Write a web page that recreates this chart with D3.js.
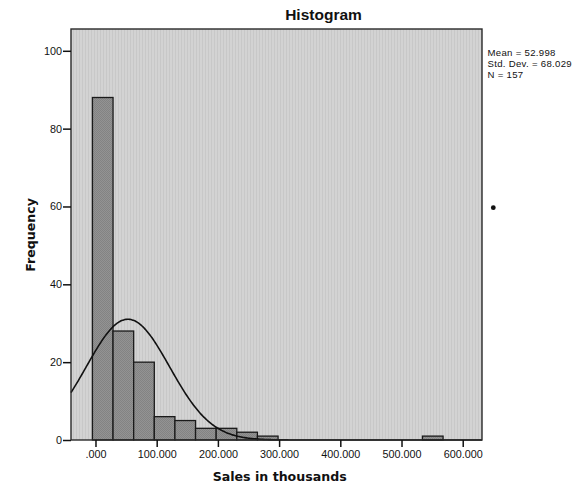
<!DOCTYPE html>
<html>
<head>
<meta charset="utf-8">
<script src="https://cdn.jsdelivr.net/npm/d3@7"></script>
<style>
  html, body { margin: 0; padding: 0; background: #ffffff; }
  svg { display: block; }
</style>
</head>
<body>
<svg id="chart" width="584" height="486"></svg>
<script>
// ---- data ----
const binStart = -5;          // left edge of the first bin (thousands)
const binWidth = 33.7;        // bin width (thousands)
const frequencies = [88, 28, 20, 6, 5, 3, 3, 2, 1, 0, 0, 0, 0, 0, 0, 0, 1];
const xTicks = [0, 100, 200, 300, 400, 500, 600];
const xTickLabels = [".000", "100.000", "200.000", "300.000", "400.000", "500.000", "600.000"];
const yTicks = [0, 20, 40, 60, 80, 100];
const statsMean = 52.998;
const statsSD = 68.029;
const statsN = 157;
const statsLines = ["Mean = 52.998", "Std. Dev. = 68.029", "N = 157"];
const titleText = "Histogram";
const xLabel = "Sales in thousands";
const yLabel = "Frequency";

// ---- layout ----
const plot = { left: 71, right: 482, top: 29, bottom: 440 };
const svg = d3.select("#chart");

const x = d3.scaleLinear().domain([-40, 631.5]).range([plot.left, plot.right]);
const y = d3.scaleLinear().domain([0, 105.6]).range([plot.bottom, plot.top]);

// texture patterns
const defs = svg.append("defs");
const bgPat = defs.append("pattern").attr("id", "bgtex").attr("patternUnits", "userSpaceOnUse")
  .attr("width", 3).attr("height", 4);
bgPat.append("rect").attr("width", 3).attr("height", 4).attr("fill", "#d3d3d3");
bgPat.append("rect").attr("x", 1).attr("width", 1).attr("height", 4).attr("fill", "#c8c8c8");
const barPat = defs.append("pattern").attr("id", "bartex").attr("patternUnits", "userSpaceOnUse")
  .attr("width", 2).attr("height", 2);
barPat.append("rect").attr("width", 2).attr("height", 2).attr("fill", "#939393");
barPat.append("rect").attr("width", 1).attr("height", 1).attr("fill", "#838383");
barPat.append("rect").attr("x", 1).attr("y", 1).attr("width", 1).attr("height", 1).attr("fill", "#838383");

// plot background
svg.append("rect")
  .attr("x", plot.left).attr("y", plot.top)
  .attr("width", plot.right - plot.left).attr("height", plot.bottom - plot.top)
  .attr("fill", "url(#bgtex)");

// bars
const bins = frequencies.map((f, i) => ({ x0: binStart + i * binWidth, x1: binStart + (i + 1) * binWidth, f }));
svg.append("g").selectAll("rect").data(bins.filter(d => d.f > 0)).join("rect")
  .attr("x", d => x(d.x0))
  .attr("y", d => y(d.f))
  .attr("width", d => x(d.x1) - x(d.x0))
  .attr("height", d => y(0) - y(d.f))
  .attr("fill", "url(#bartex)")
  .attr("stroke", "#1a1a1a")
  .attr("stroke-width", 1.3);

// fitted normal curve (from displayed mean, sd, N and bin width)
const curveXs = d3.range(-40, 631.5, 2).concat([631.5]);
const normal = v => statsN * binWidth / (statsSD * Math.sqrt(2 * Math.PI)) *
  Math.exp(-0.5 * Math.pow((v - statsMean) / statsSD, 2));
svg.append("path")
  .datum(curveXs)
  .attr("fill", "none")
  .attr("stroke", "#111")
  .attr("stroke-width", 1.6)
  .attr("d", d3.line().x(v => x(v)).y(v => y(normal(v))).curve(d3.curveBasis));

// frame
svg.append("rect")
  .attr("x", plot.left).attr("y", plot.top)
  .attr("width", plot.right - plot.left).attr("height", plot.bottom - plot.top)
  .attr("fill", "none").attr("stroke", "#2a2a2a").attr("stroke-width", 1.4);

// axes
const xAxis = d3.axisBottom(x).tickValues(xTicks)
  .tickFormat((d, i) => xTickLabels[i]).tickSize(7).tickSizeOuter(0).tickPadding(3);
const gx = svg.append("g").attr("transform", `translate(0,${plot.bottom})`).call(xAxis);
gx.select(".domain").remove();
gx.selectAll("line").attr("stroke", "#111").attr("stroke-width", 1.5);
gx.selectAll("text").attr("font-family", "'Liberation Sans', Arial, sans-serif")
  .attr("font-size", "10.8px").attr("fill", "#111");

const yAxis = d3.axisLeft(y).tickValues(yTicks).tickSize(8).tickSizeOuter(0).tickPadding(1);
const gy = svg.append("g").attr("transform", `translate(${plot.left},0)`).call(yAxis);
gy.select(".domain").remove();
gy.selectAll("line").attr("stroke", "#111").attr("stroke-width", 1.5);
gy.selectAll("text").attr("font-family", "'Liberation Sans', Arial, sans-serif")
  .attr("font-size", "10.8px").attr("fill", "#111");

// title
svg.append("text").text(titleText)
  .attr("x", 323.5).attr("y", 20)
  .attr("text-anchor", "middle")
  .attr("font-family", "'Liberation Sans', Arial, sans-serif")
  .attr("font-weight", "bold").attr("font-size", "15.5px").attr("fill", "#111");

// axis titles
svg.append("text").text(xLabel)
  .attr("x", 279.7).attr("y", 481)
  .attr("text-anchor", "middle")
  .attr("font-family", "'DejaVu Sans', sans-serif")
  .attr("font-weight", "bold").attr("font-size", "12.6px").attr("fill", "#111");

svg.append("text").text(yLabel)
  .attr("transform", "translate(35,235) rotate(-90)")
  .attr("text-anchor", "middle")
  .attr("font-family", "'DejaVu Sans', sans-serif")
  .attr("font-weight", "bold").attr("font-size", "12.6px").attr("fill", "#111");

// stats box
svg.append("g").selectAll("text").data(statsLines).join("text")
  .text(d => d)
  .attr("x", 487.5)
  .attr("y", (d, i) => 56 + i * 11)
  .attr("font-family", "'Liberation Sans', Arial, sans-serif")
  .attr("font-size", "9.6px").attr("letter-spacing", "0.3px").attr("fill", "#111");

// stray dot present in the reference image
svg.append("circle").attr("cx", 493.3).attr("cy", 207.7).attr("r", 2.4).attr("fill", "#111");
</script>
</body>
</html>
